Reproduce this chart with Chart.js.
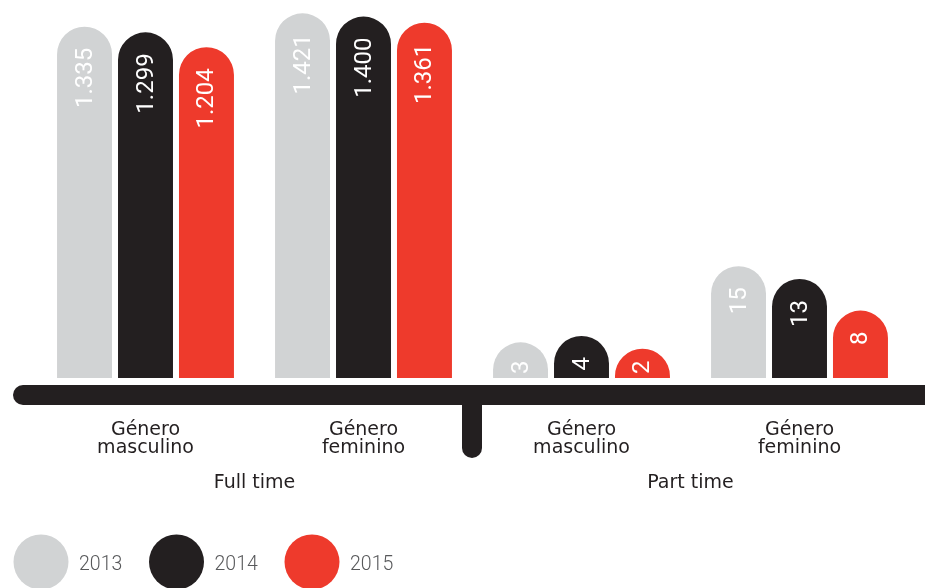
<!DOCTYPE html>
<html>
<head>
<meta charset="utf-8">
<script src="https://cdn.jsdelivr.net/npm/chart.js@4/dist/chart.umd.min.js"></script>
<style>
html,body{margin:0;padding:0;background:#fff;}
#c{display:block;}
</style>
</head>
<body>
<canvas id="c" width="925" height="588"></canvas>
<script>
// ---- data ----
const categories = ['Género masculino', 'Género feminino', 'Género masculino', 'Género feminino'];
const groups = ['Full time', 'Part time'];
const years = ['2013', '2014', '2015'];
const fullTimeMasculino = [1335, 1299, 1204];
const fullTimeFeminino = [1421, 1400, 1361];
const partTimeMasculino = [3, 4, 2];
const partTimeFeminino = [15, 13, 8];
const colors = ['#d1d3d4', '#231f20', '#ee3a2c'];

const FONT = 'Roboto';
const LABEL_FONT = '"DejaVu Sans"';
const INK = '#231f20';

function fmt(v) {
  return String(v).replace(/\B(?=(\d{3})+(?!\d))/g, '.');
}

const datasets = [];
years.forEach((y, i) => {
  datasets.push({
    label: y, group: 'full', yAxisID: 'y',
    data: [fullTimeMasculino[i], fullTimeFeminino[i], null, null],
    backgroundColor: colors[i], base: -1200
  });
});
years.forEach((y, i) => {
  datasets.push({
    label: y, group: 'part', yAxisID: 'y2',
    data: [null, null, partTimeMasculino[i], partTimeFeminino[i]],
    backgroundColor: colors[i], base: -10
  });
});
datasets.forEach(d => {
  d.borderWidth = 0;
  d.borderRadius = {topLeft: 28, topRight: 28, bottomLeft: 0, bottomRight: 0};
  d.borderSkipped = 'start';
  d.clip = {left: false, top: false, right: false, bottom: 0};
  d.categoryPercentage = 0.839;
  d.barPercentage = 0.9016;
  d.skipNull = true;
});

function roundRect(ctx, x, y, w, h, r) {
  ctx.beginPath();
  ctx.moveTo(x + r, y);
  ctx.lineTo(x + w - r, y);
  ctx.arcTo(x + w, y, x + w, y + r, r);
  ctx.lineTo(x + w, y + h - r);
  ctx.arcTo(x + w, y + h, x + w - r, y + h, r);
  ctx.lineTo(x + r, y + h);
  ctx.arcTo(x, y + h, x, y + h - r, r);
  ctx.lineTo(x, y + r);
  ctx.arcTo(x, y, x + r, y, r);
  ctx.closePath();
}

const decor = {
  id: 'decor',
  afterDatasetsDraw(chart) {
    const ctx = chart.ctx;
    const area = chart.chartArea;
    const xs = chart.scales.x;
    ctx.save();
    // value labels
    chart.data.datasets.forEach((ds, di) => {
      const meta = chart.getDatasetMeta(di);
      meta.data.forEach((el, idx) => {
        const v = ds.data[idx];
        if (v === null || v === undefined) return;
        const txt = fmt(v);
        ctx.font = '400 24px ' + FONT;
        const w = ctx.measureText(txt).width;
        let top = el.y + 21;
        if (top + w > area.bottom - 4) top = area.bottom - 4 - w;
        ctx.save();
        ctx.translate(el.x, top);
        ctx.rotate(-Math.PI / 2);
        ctx.fillStyle = '#ffffff';
        ctx.textAlign = 'right';
        ctx.textBaseline = 'middle';
        ctx.fillText(txt, 0, 1);
        ctx.restore();
      });
    });
    // baseline bar
    const lineTop = area.bottom + 7;
    ctx.fillStyle = INK;
    roundRect(ctx, 13, lineTop, 935 - 13, 20, 10);
    ctx.fill();
    // separator stub between groups
    const sepX = (xs.getPixelForValue(1) + xs.getPixelForValue(2)) / 2 - 0.5;
    roundRect(ctx, sepX - 10, lineTop, 20, 458 - lineTop, 10);
    ctx.fill();
    ctx.fillRect(sepX - 10, lineTop, 20, 12);
    // category labels
    ctx.fillStyle = INK;
    ctx.textAlign = 'center';
    ctx.textBaseline = 'alphabetic';
    ctx.font = '400 19px ' + LABEL_FONT;
    categories.forEach((c, i) => {
      const x = xs.getPixelForValue(i);
      const parts = c.split(' ');
      ctx.fillText(parts[0], x, 435);
      ctx.fillText(parts.slice(1).join(' '), x, 453);
    });
    ctx.font = '400 19px ' + LABEL_FONT;
    groups.forEach((g, gi) => {
      const x = (xs.getPixelForValue(gi * 2) + xs.getPixelForValue(gi * 2 + 1)) / 2;
      ctx.fillText(g, x, 488);
    });
    // legend
    years.forEach((y, i) => {
      const cx = 41 + i * 135.5;
      ctx.beginPath();
      ctx.arc(cx, 562, 27.5, 0, Math.PI * 2);
      ctx.fillStyle = colors[i];
      ctx.fill();
      ctx.fillStyle = '#58595b';
      ctx.font = '300 19.5px ' + FONT;
      ctx.textAlign = 'left';
      ctx.textBaseline = 'alphabetic';
      ctx.fillText(y, cx + 38, 570);
    });
    ctx.restore();
  }
};

new Chart(document.getElementById('c'), {
  type: 'bar',
  data: { labels: categories, datasets },
  options: {
    responsive: false,
    devicePixelRatio: 1,
    animation: false,
    layout: { padding: { top: 0, left: 36.5, right: 16.5, bottom: 210 } },
    plugins: { legend: { display: false }, tooltip: { enabled: false } },
    scales: {
      x: { display: false, offset: true, grid: { display: false } },
      y: { display: false, min: -912, max: 1506 },
      y2: { display: false, min: -2.63, max: 57.0, position: 'right' }
    }
  },
  plugins: [decor]
});
</script>
</body>
</html>
